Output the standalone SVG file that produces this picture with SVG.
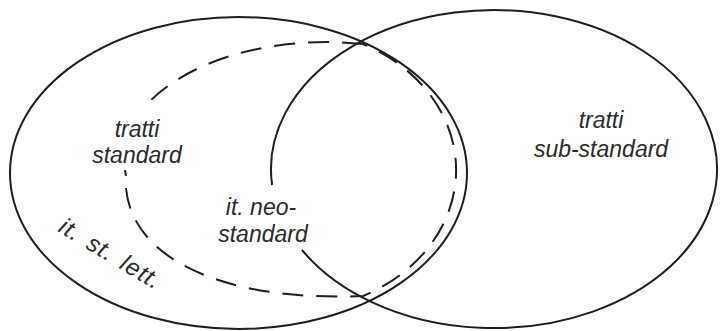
<svg xmlns="http://www.w3.org/2000/svg" width="720" height="331" viewBox="0 0 720 331">
<style>
.sol{fill:none;stroke:#1e1e1e;stroke-width:2}
.dash{fill:none;stroke:#1e1e1e;stroke-width:2;stroke-dasharray:21 13}
.lbl{font-family:"Liberation Sans",Arial,sans-serif;font-style:italic;font-size:23px;fill:#2a2a2a;text-anchor:middle}
</style>
<rect width="720" height="331" fill="#fff"/>
<g id="connectors">
<g id="left-set"><ellipse class="sol" cx="238.5" cy="173" rx="228.5" ry="156"/></g>
<g id="right-set"><path class="sol" d="M302,250 A223 159 0 1 0 272.1,185"/></g>
<g id="neo-set">
<path class="dash" d="M363,44 C290,36 200,52 150,101"/>
<path class="sol" d="M125,170 L126,176"/>
<path class="dash" d="M126,188 C132,258 222,302 363,296 A167 140.5 0 0 0 363,44"/>
</g>
</g>
<g id="node-tratti-standard">
<text class="lbl" x="137" y="137">tratti</text>
<text class="lbl" x="137" y="163">standard</text>
</g>
<g id="node-neo-standard">
<text class="lbl" x="261" y="215">it. neo-</text>
<text class="lbl" x="263" y="242">standard</text>
</g>
<g id="node-sub-standard">
<text class="lbl" x="601" y="128">tratti</text>
<text class="lbl" x="601" y="157">sub-standard</text>
</g>
<g id="node-it-st-lett">
<text class="lbl" style="text-anchor:start;font-size:24px;letter-spacing:1px;word-spacing:3px" transform="translate(57,231) rotate(31)">it. st. lett.</text>
</g>
</svg>
